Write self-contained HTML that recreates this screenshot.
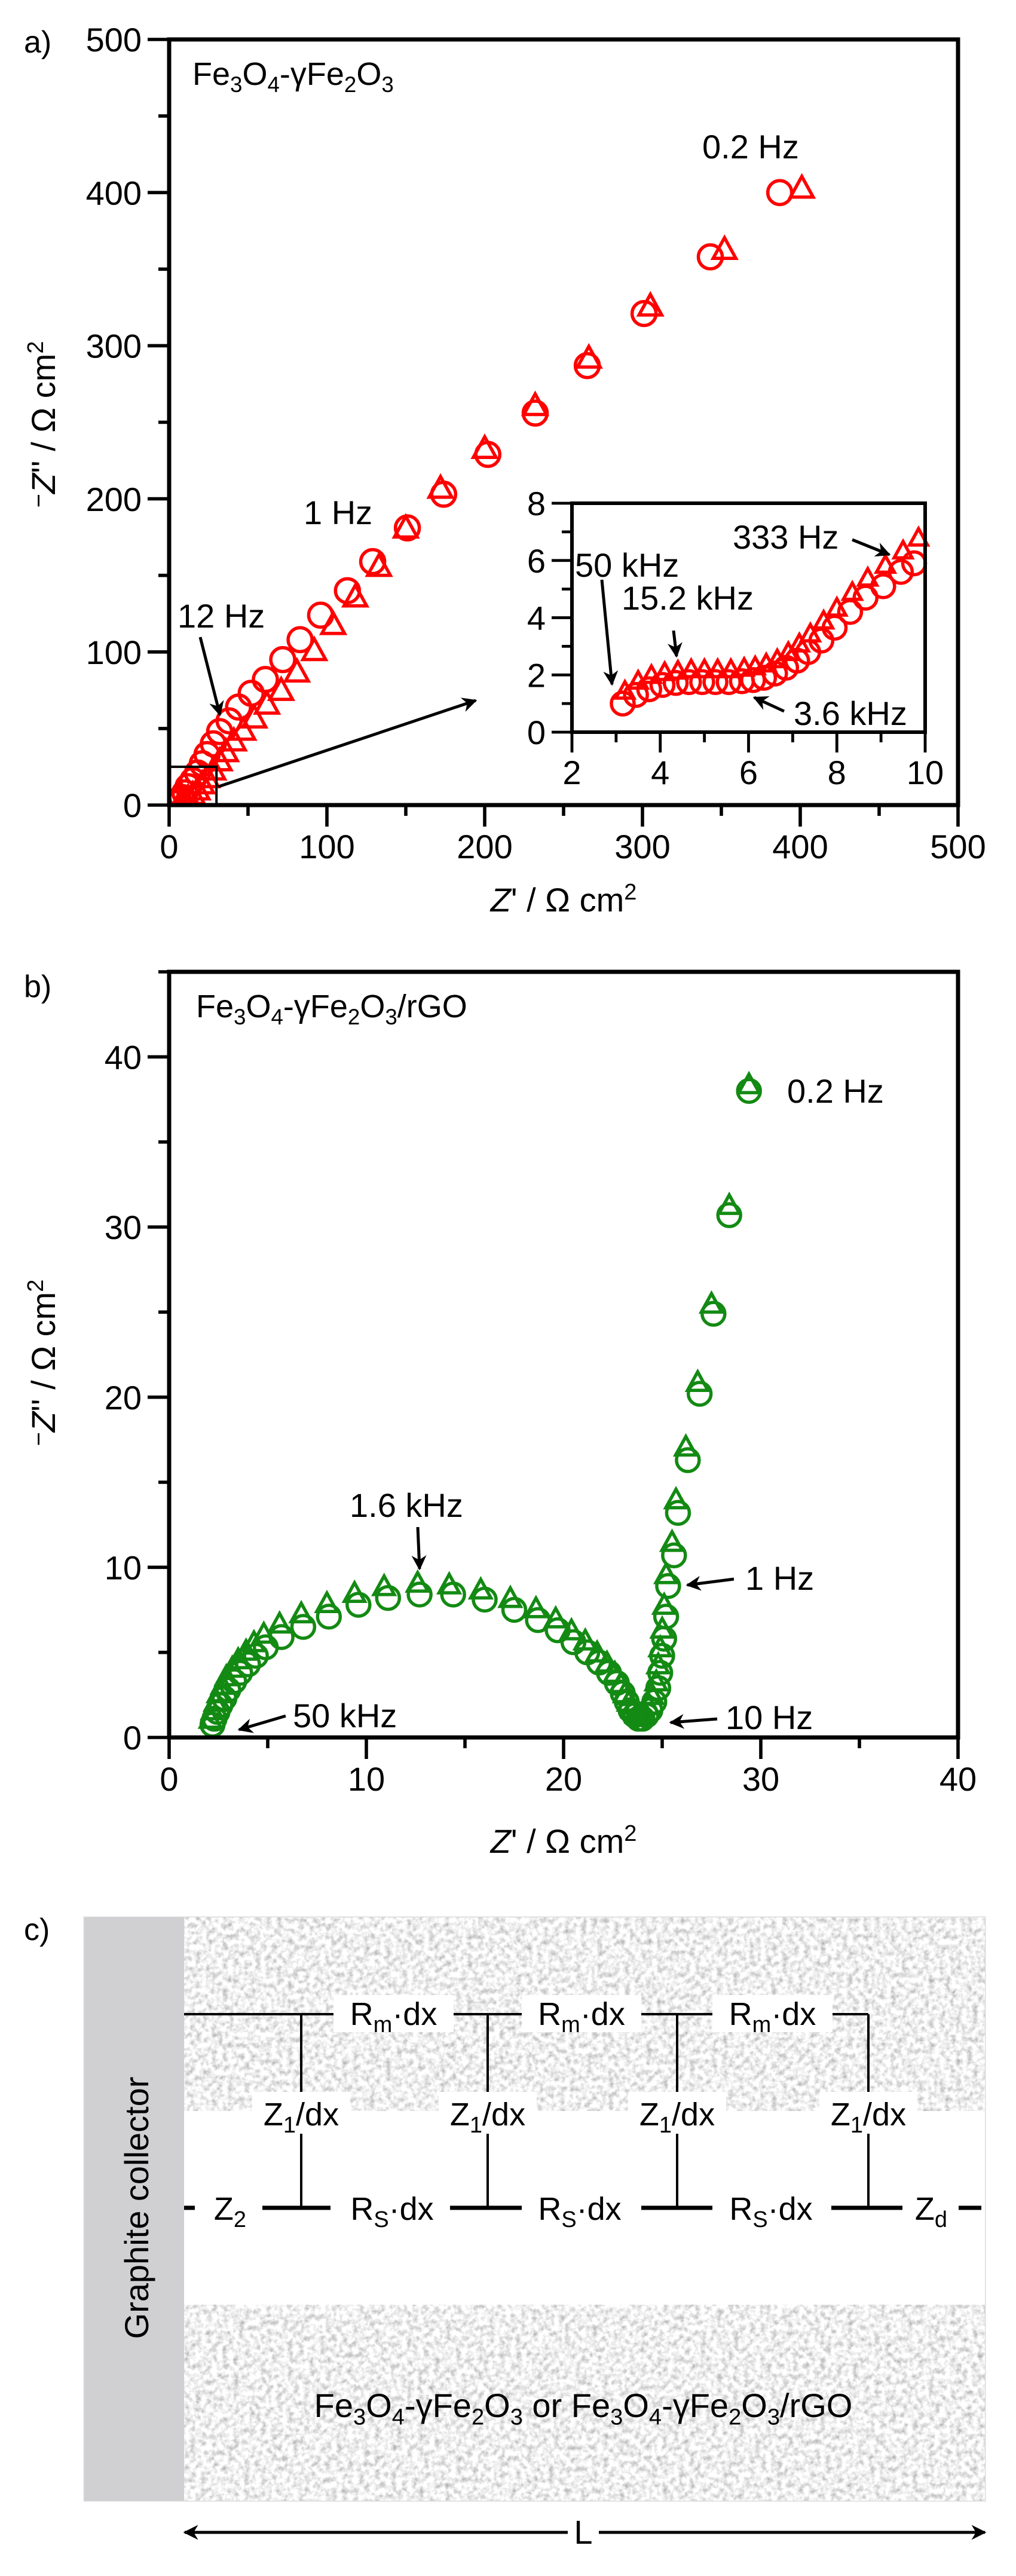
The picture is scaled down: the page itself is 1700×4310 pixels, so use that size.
<!DOCTYPE html>
<html><head><meta charset="utf-8">
<style>
html,body{margin:0;padding:0;background:#fff;}
svg{display:block;font-family:"Liberation Sans",Arial,sans-serif;}
</style></head>
<body>
<svg id="fig" xmlns="http://www.w3.org/2000/svg" width="1700" height="4310" viewBox="0 0 1700 4310">
<defs>
<filter id="speckle" x="0" y="0" width="100%" height="100%">
<feTurbulence type="fractalNoise" baseFrequency="0.11" numOctaves="3" seed="4"/>
<feColorMatrix type="matrix" values="1.1 0 0 0 0.32  1.1 0 0 0 0.32  1.1 0 0 0 0.32  0 0 0 0 1"/>
</filter>
<marker id="ah" viewBox="0 0 10 10" refX="9" refY="5" markerWidth="5" markerHeight="5" orient="auto-start-reverse"><path d="M0,0 L10,5 L0,10 L3,5 z" fill="#000"/></marker>
<clipPath id="clipA"><rect x="283" y="66" width="1320" height="1281"/></clipPath>
<clipPath id="clipIn"><rect x="957" y="842" width="600" height="383"/></clipPath>
<clipPath id="clipB"><rect x="283" y="1626" width="1320" height="1281"/></clipPath>
</defs>
<g id="panelA"></g>
<g id="panelB"></g>
<g id="panelC"></g>
</svg>
<script>
// ---------- Panel a data ----------
const aXTicks = [0, 100, 200, 300, 400, 500];
const aYTicks = [0, 100, 200, 300, 400, 500];
const aCircX = [4,6,8,10,12,15,18,21,24,28,32,38,44,52,61,72,83,96,113,129,151,174,202,232,265,301,343,387];
const aCircY = [1,3,5,8,12,16,21,27,33,40,48,55,64,73,82,95,108,124,140,159,181,203,229,256,287,321,358,400];
const aTriX = [7,10,12,15,18,21,24,28,32,36,41,47,54,62,71,81,92,104,118,133,150,172,200,232,266,305,352,401];
const aTriY = [0.5,2,4,6,9,13,17,22,28,34,41,48,56,65,74,86,100,117,135,155,180,206,232,260,291,325,362,402];
// inset
const inXTicks = [2, 4, 6, 8, 10];
const inYTicks = [0, 2, 4, 6, 8];
const inCircX = [3.15,3.45,3.75,4.05,4.35,4.65,4.95,5.25,5.55,5.85,6.1,6.35,6.6,6.85,7.1,7.35,7.65,7.95,8.3,8.65,9.05,9.45,9.75];
const inCircY = [1.0,1.3,1.5,1.65,1.72,1.75,1.75,1.75,1.75,1.78,1.82,1.9,2.05,2.25,2.5,2.8,3.2,3.65,4.2,4.7,5.1,5.6,5.9];
const inTriX = [3.2,3.5,3.8,4.1,4.4,4.7,5.0,5.3,5.6,5.9,6.15,6.4,6.65,6.9,7.15,7.4,7.7,8.0,8.35,8.7,9.1,9.5,9.85];
const inTriY = [1.4,1.75,1.95,2.05,2.1,2.15,2.15,2.15,2.15,2.2,2.25,2.35,2.5,2.75,3.05,3.4,3.85,4.3,4.85,5.35,5.8,6.3,6.75];
// ---------- Panel b data ----------
const bXTicks = [0, 10, 20, 30, 40];
const bYTicks = [0, 10, 20, 30, 40];
const bCircX = [2.2,2.3,2.45,2.6,2.8,3.0,3.3,3.6,4.0,4.4,4.9,5.7,6.8,8.1,9.6,11.1,12.7,14.4,16.0,17.5,18.7,19.7,20.5,21.2,21.8,22.3,22.7,23.0,23.2,23.4,23.6,23.8,24.0,24.2,24.4,24.6,24.8,24.9,25.0,25.1,25.2,25.3,25.6,25.8,26.3,26.9,27.6,28.4,29.4];
const bCircY = [0.75,1.1,1.5,1.9,2.3,2.8,3.3,3.8,4.3,4.8,5.3,5.9,6.5,7.1,7.8,8.2,8.4,8.4,8.1,7.5,6.9,6.3,5.6,5.0,4.4,3.8,3.2,2.6,2.1,1.6,1.3,1.1,1.1,1.3,1.6,2.1,2.9,3.8,4.8,5.8,7.1,8.9,10.7,13.2,16.3,20.2,24.9,30.7,38.0];
const bTriX = [2.1,2.2,2.35,2.5,2.7,2.9,3.2,3.5,3.9,4.3,4.8,5.6,6.7,8.0,9.4,10.9,12.6,14.2,15.8,17.3,18.6,19.6,20.4,21.1,21.7,22.2,22.6,22.9,23.1,23.3,23.5,23.7,23.9,24.1,24.3,24.5,24.7,24.8,24.9,25.0,25.1,25.2,25.5,25.7,26.2,26.8,27.5,28.4,29.4];
const bTriY = [1.0,1.5,2.0,2.5,3.0,3.5,4.0,4.5,5.0,5.5,6.0,6.6,7.2,7.8,8.4,8.8,9.0,8.9,8.6,8.1,7.5,6.9,6.2,5.6,4.9,4.3,3.7,3.1,2.5,2.0,1.6,1.3,1.2,1.4,1.8,2.4,3.2,4.2,5.2,6.3,7.7,9.5,11.4,13.9,17.0,20.8,25.4,31.2,38.3];

const NS = "http://www.w3.org/2000/svg";
function mk(parent, tag, attrs) {
  const e = document.createElementNS(NS, tag);
  for (const k in attrs) e.setAttribute(k, attrs[k]);
  parent.appendChild(e);
  return e;
}
function line(p, x1, y1, x2, y2, w, extra) {
  const e = mk(p, "line", {x1:x1, y1:y1, x2:x2, y2:y2, stroke:"#000", "stroke-width":w});
  if (extra) for (const k in extra) e.setAttribute(k, extra[k]);
  return e;
}
function txt(p, x, y, s, size, anchor) {
  const e = mk(p, "text", {x:x, y:y, "font-size":size, "text-anchor":anchor || "start", fill:"#000"});
  e.textContent = s;
  return e;
}
function linScale(d0, d1, r0, r1) { return v => r0 + (v - d0) * (r1 - r0) / (d1 - d0); }
function triPath(cx, cy, r) {
  const h = r * 1.15;
  return `M${cx},${cy - h} L${cx + r * 1.0},${cy + h * 0.58} L${cx - r * 1.0},${cy + h * 0.58} Z`;
}
function drawSeries(g, xs, ys, sx, sy, color, kind, r, name) {
  for (let i = 0; i < xs.length; i++) {
    let m;
    if (kind === "circle") {
      m = mk(g, "circle", {cx:sx(xs[i]), cy:sy(ys[i]), r:r, fill:"none", stroke:color, "stroke-width":5.5});
    } else {
      m = mk(g, "path", {d:triPath(sx(xs[i]), sy(ys[i]), r), fill:"none", stroke:color, "stroke-width":5.5, "stroke-linejoin":"miter"});
    }
    
    
  }
}
function arrow(p, x1, y1, x2, y2, name) {
  const a = line(p, x1, y1, x2, y2, 5, {"marker-end":"url(#ah)"});
  
  
  return a;
}
function chemLabel(p, x, y, size, parts) {
  const t = mk(p, "text", {x:x, y:y, "font-size":size, fill:"#000"});
  parts.forEach(pt => {
    const s = document.createElementNS(NS, "tspan");
    if (pt.sub) { s.setAttribute("font-size", size * 0.68); s.setAttribute("dy", size * 0.22); }
    else if (pt.back) { s.setAttribute("dy", -size * 0.22); }
    s.textContent = pt.t;
    t.appendChild(s);
  });
  return t;
}
const feParts = [{t:"Fe"},{t:"3",sub:1},{t:"O",back:1},{t:"4",sub:1},{t:"-γFe",back:1},{t:"2",sub:1},{t:"O",back:1},{t:"3",sub:1}];

function axesFrame(g, L, T, R, B, xTicks, yTicks, sx, sy, xMinor, yMinor, fs, lw, tl, name) {
  const fr = mk(g, "rect", {x:L, y:T, width:R - L, height:B - T, fill:"none", stroke:"#000", "stroke-width":lw});
  
  
  xTicks.forEach(v => {
    const x = sx(v);
    line(g, x, B, x, B + tl, lw * 0.8);
    const t = txt(g, x, B + tl + fs * 0.95, String(v), fs, "middle");
    
    
  });
  xMinor.forEach(v => { const x = sx(v); line(g, x, B, x, B + tl / 2, lw * 0.8); });
  yTicks.forEach(v => {
    const y = sy(v);
    line(g, L - tl, y, L, y, lw * 0.8);
    const t = txt(g, L - tl - 10, y + fs * 0.36, String(v), fs, "end");
    
    
  });
  yMinor.forEach(v => { const y = sy(v); line(g, L - tl / 2, y, L, y, lw * 0.8); });
}

// ================= PANEL A =================
(function () {
  const g = document.getElementById("panelA");
  const L = 283, R = 1603, T = 66, B = 1347;
  const sx = linScale(0, 500, L, R), sy = linScale(0, 500, B, T);
  const red = "#ff0000";
  const pa = txt(g, 40, 88, "a)", 52);
  
  
  const sg = mk(g, "g", {"clip-path":"url(#clipA)"});
  
  
  drawSeries(sg, aTriX, aTriY, sx, sy, red, "tri", 19, "triangle-point-a");
  drawSeries(sg, aCircX, aCircY, sx, sy, red, "circle", 20, "circle-point-a");
  axesFrame(g, L, T, R, B, aXTicks, aYTicks, sx, sy, [50,150,250,350,450], [50,150,250,350,450], 56, 7, 36, "plot-a");
  const lab = chemLabel(g, 322, 142, 54, feParts);
  
  
  const yt = txt(g, 0, 0, "", 56, "middle");
  yt.setAttribute("transform", "translate(92,710) rotate(-90)");
  yt.innerHTML = '<tspan font-size="40" dy="-14">−</tspan><tspan font-style="italic" dy="14">Z</tspan>\'\' / Ω cm<tspan font-size="38" dy="-20">2</tspan>';
  
  
  const xt = txt(g, 943, 1525, "", 56, "middle");
  xt.innerHTML = '<tspan font-style="italic">Z</tspan>\' / Ω cm<tspan font-size="38" dy="-20">2</tspan>';
  
  
  const zb = mk(g, "rect", {x:sx(0), y:sy(25), width:sx(30) - sx(0), height:sy(0) - sy(25), fill:"none", stroke:"#000", "stroke-width":4});
  
  
  arrow(g, sx(30) + 3, sy(12), 796, 1172, "zoom-arrow");
  const an = [["0.2 Hz",1175,265],["1 Hz",508,877],["12 Hz",297,1050]];
  an.forEach(a => {
    const t = txt(g, a[1], a[2], a[0], 56);
    
    
  });
  arrow(g, 335, 1066, 368, 1196, "arrow-12hz");

  const iL = 957, iR = 1548, iT = 842, iB = 1225;
  const ix = linScale(2, 10, iL, iR), iy = linScale(0, 8, iB, iT);
  mk(g, "rect", {x:iL, y:iT, width:iR - iL, height:iB - iT, fill:"#fff"});
  const ig = mk(g, "g", {"clip-path":"url(#clipIn)"});
  
  
  drawSeries(ig, inTriX, inTriY, ix, iy, red, "tri", 15, "inset-triangle-point");
  drawSeries(ig, inCircX, inCircY, ix, iy, red, "circle", 19, "inset-circle-point");
  const ing = mk(g, "g", {});
  
  
  axesFrame(ing, iL, iT, iR, iB, inXTicks, inYTicks, ix, iy, [3,5,7,9], [1,3,5,7], 56, 6, 34, "inset");
  const ia = [["333 Hz",1226,918],["50 kHz",962,965],["15.2 kHz",1040,1020],["3.6 kHz",1328,1213]];
  ia.forEach(a => {
    const t = txt(g, a[1], a[2], a[0], 56);
    
    
  });
  arrow(g, 1426, 903, 1488, 928, "arrow-333hz");
  arrow(g, 1007, 970, 1024, 1145, "arrow-50khz");
  arrow(g, 1127, 1055, 1132, 1098, "arrow-15khz");
  arrow(g, 1312, 1190, 1262, 1167, "arrow-3-6khz");
})();

// ================= PANEL B =================
(function () {
  const g = document.getElementById("panelB");
  const L = 283, R = 1603, T = 1626, B = 2907;
  const sx = linScale(0, 40, L, R), sy = linScale(0, 45, B, T);
  const green = "#138a13";
  const pb = txt(g, 40, 1668, "b)", 52);
  
  
  const sg = mk(g, "g", {"clip-path":"url(#clipB)"});
  
  
  drawSeries(sg, bTriX, bTriY, sx, sy, green, "tri", 17, "triangle-point-b");
  drawSeries(sg, bCircX, bCircY, sx, sy, green, "circle", 19, "circle-point-b");
  axesFrame(g, L, T, R, B, bXTicks, bYTicks, sx, sy, [5,15,25,35], [5,15,25,35,45], 56, 7, 36, "plot-b");
  const lab = chemLabel(g, 328, 1702, 54, feParts.concat([{t:"/rGO",back:1}]));
  
  
  const yt = txt(g, 0, 0, "", 56, "middle");
  yt.setAttribute("transform", "translate(92,2280) rotate(-90)");
  yt.innerHTML = '<tspan font-size="40" dy="-14">−</tspan><tspan font-style="italic" dy="14">Z</tspan>\'\' / Ω cm<tspan font-size="38" dy="-20">2</tspan>';
  
  
  const xt = txt(g, 943, 3100, "", 56, "middle");
  xt.innerHTML = '<tspan font-style="italic">Z</tspan>\' / Ω cm<tspan font-size="38" dy="-20">2</tspan>';
  
  
  const an = [["0.2 Hz",1317,1845],["1.6 kHz",585,2538],["1 Hz",1247,2660],["50 kHz",490,2890],["10 Hz",1214,2893]];
  an.forEach(a => {
    const t = txt(g, a[1], a[2], a[0], 56);
    
    
  });
  arrow(g, 699, 2555, 702, 2625, "arrow-1-6khz");
  arrow(g, 1228, 2642, 1150, 2652, "arrow-1hz");
  arrow(g, 478, 2871, 400, 2894, "arrow-50khz-b");
  arrow(g, 1200, 2876, 1122, 2882, "arrow-10hz");
})();

// ================= PANEL C =================
(function () {
  const g = document.getElementById("panelC");
  const pc = txt(g, 40, 3246, "c)", 52);
  
  
  const outer = mk(g, "rect", {x:141, y:3208, width:1507, height:976, fill:"#fff", stroke:"#dcdcdc", "stroke-width":3});
  
  
  const col = mk(g, "rect", {x:141, y:3208, width:167, height:976, fill:"#d0cfd1"});
  
  
  const top = mk(g, "rect", {x:308, y:3208, width:1340, height:324, fill:"#d8d8d8", filter:"url(#speckle)"});
  
  
  const bot = mk(g, "rect", {x:308, y:3856, width:1340, height:328, fill:"#d8d8d8", filter:"url(#speckle)"});
  
  
  const band = mk(g, "rect", {x:308, y:3532, width:1340, height:324, fill:"#fff"});
  
  
  const gt = txt(g, 0, 0, "Graphite collector", 56, "middle");
  gt.setAttribute("transform", "translate(248,3694) rotate(-90)");
  
  
  const yTop = 3370, yBot = 3694;
  const vx = [504, 816, 1133, 1453];
  line(g, 308, yTop, 1453, yTop, 4);
  vx.forEach(x => line(g, x, yTop, x, yBot, 4));
  [[308,326],[439,553],[753,873],[1073,1192],[1391,1510],[1604,1642]].forEach(s => line(g, s[0], yBot, s[1], yBot, 7));
  [[558,759],[873,1073],[1192,1393]].forEach(b => {
    mk(g, "rect", {x:b[0], y:3338, width:b[1] - b[0], height:62, fill:"#fff"});
    const t = mk(g, "text", {x:(b[0] + b[1]) / 2, y:3388, "font-size":54, "text-anchor":"middle"});
    t.innerHTML = 'R<tspan font-size="38" dy="12">m</tspan><tspan dy="-12">·dx</tspan>';
    
    
  });
  vx.forEach(x => {
    mk(g, "rect", {x:x - 82, y:3500, width:164, height:70, fill:"#fff"});
    const t = mk(g, "text", {x:x, y:3556, "font-size":54, "text-anchor":"middle"});
    t.innerHTML = 'Z<tspan font-size="38" dy="12">1</tspan><tspan dy="-12">/dx</tspan>';
    
    
  });
  [[385,"Z","2"],[656,"R","S"],[970,"R","S"],[1290,"R","S"],[1558,"Z","d"]].forEach(a => {
    const t = mk(g, "text", {x:a[0], y:3714, "font-size":54, "text-anchor":"middle"});
    const tail = a[1] === "R" ? '<tspan dy="-12">·dx</tspan>' : '';
    t.innerHTML = a[1] + '<tspan font-size="38" dy="12">' + a[2] + '</tspan>' + tail;
    
    
  });
  const ml = chemLabel(g, 976, 4044, 56, feParts.concat([{t:" or Fe",back:1},{t:"3",sub:1},{t:"O",back:1},{t:"4",sub:1},{t:"-γFe",back:1},{t:"2",sub:1},{t:"O",back:1},{t:"3",sub:1},{t:"/rGO",back:1}]));
  ml.setAttribute("text-anchor", "middle");
  
  
  arrow(g, 940, 4237, 1648, 4237, "length-arrow-right");
  arrow(g, 1012, 4237, 309, 4237, "length-arrow-left");
  mk(g, "rect", {x:950, y:4215, width:52, height:50, fill:"#fff"});
  const lt = txt(g, 976, 4256, "L", 56, "middle");
  
  
})();
</script>
</body></html>
